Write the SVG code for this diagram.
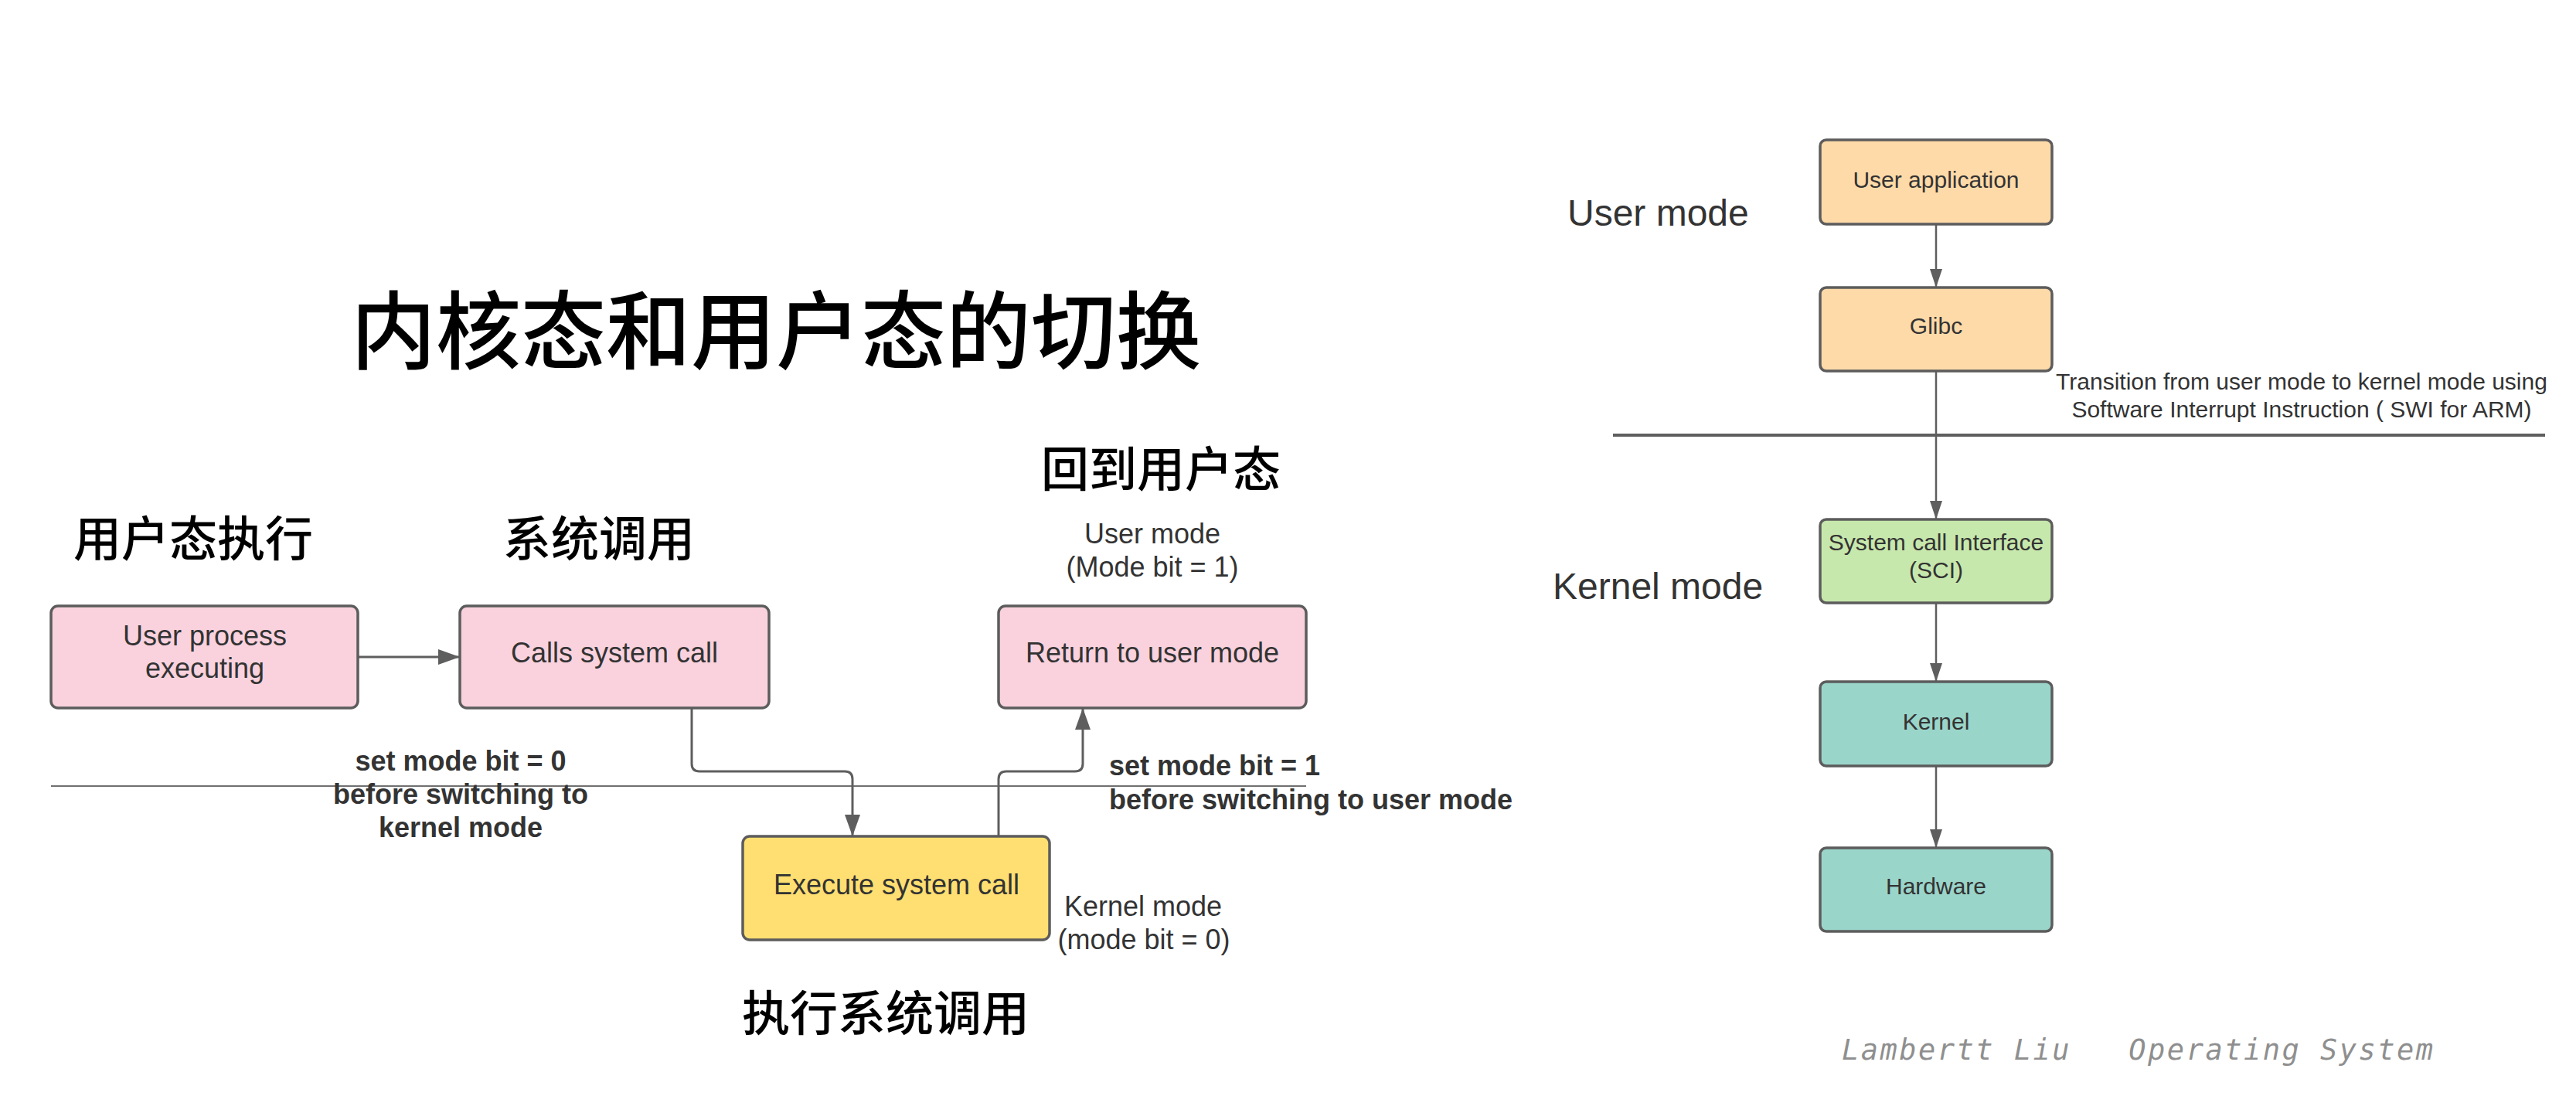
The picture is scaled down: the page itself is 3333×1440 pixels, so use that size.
<svg xmlns="http://www.w3.org/2000/svg" width="3333" height="1440" viewBox="0 0 3333 1440">
<style>
.box{stroke:#5c5c5c;stroke-width:3.5}
.pink{fill:#F9D2DE}
.yellow{fill:#FFDF71}
.orange{fill:#FFDAA9}
.green{fill:#C7E8AC}
.teal{fill:#9AD5CA}
.t{font-family:"Liberation Sans",Arial,sans-serif;fill:#333333;text-anchor:middle}
.t36{font-size:36px}
.t30{font-size:30px}
.t48{font-size:48px;text-anchor:start}
.b{font-weight:bold}
.cjk{font-family:"Noto Sans CJK SC",sans-serif;fill:#000;text-anchor:middle;font-weight:500}
.conn{fill:none;stroke:#5e5e5e;stroke-width:3}
.connr{fill:none;stroke:#5e5e5e;stroke-width:2.5}
</style>
<defs>
<marker id="arL" markerUnits="userSpaceOnUse" markerWidth="28" markerHeight="20" viewBox="0 0 28 20" refX="28" refY="10" orient="auto">
<path d="M0,0 L28,10 L0,20 Z" fill="#5e5e5e"/>
</marker>
<marker id="arR" markerUnits="userSpaceOnUse" markerWidth="24" markerHeight="16" viewBox="0 0 24 16" refX="24" refY="8" orient="auto">
<path d="M0,0 L24,8 L0,16 Z" fill="#5e5e5e"/>
</marker>
</defs>
<rect width="3333" height="1440" fill="#ffffff"/>

<g id="titles">
<text class="cjk" x="1004" y="469" font-size="110">内核态和用户态的切换</text>
<text class="cjk" x="250" y="720" font-size="62">用户态执行</text>
<text class="cjk" x="775" y="720" font-size="62">系统调用</text>
<text class="cjk" x="1502" y="630" font-size="62">回到用户态</text>
<text class="cjk" x="1146" y="1334" font-size="62">执行系统调用</text>
</g>

<g id="dividers">
<line x1="66" y1="1017" x2="1690" y2="1017" stroke="#707070" stroke-width="2"/>
<line x1="2087" y1="563" x2="3293" y2="563" stroke="#5e5e5e" stroke-width="4"/>
</g>

<g id="connectors">
<path class="conn" d="M463,850 H595" marker-end="url(#arL)"/>
<path class="conn" d="M895,916 V988 Q895,998 905,998 H1093 Q1103,998 1103,1008 V1082" marker-end="url(#arL)"/>
<path class="conn" d="M1292,1082 V1008 Q1292,998 1302,998 H1391 Q1401,998 1401,988 V916" marker-end="url(#arL)"/>
<path class="connr" d="M2505,290 V372" marker-end="url(#arR)"/>
<path class="connr" d="M2505,480 V672" marker-end="url(#arR)"/>
<path class="connr" d="M2505,780 V882" marker-end="url(#arR)"/>
<path class="connr" d="M2505,991 V1097" marker-end="url(#arR)"/>
</g>

<g id="user-process">
<rect class="box pink" x="66" y="784" width="397" height="132" rx="9"/>
<text class="t t36" x="265" y="835">User process</text>
<text class="t t36" x="265" y="877">executing</text>
</g>
<g id="calls-system-call">
<rect class="box pink" x="595" y="784" width="400" height="132" rx="9"/>
<text class="t t36" x="795" y="857">Calls system call</text>
</g>
<g id="return-user-mode">
<rect class="box pink" x="1292" y="784" width="398" height="132" rx="9"/>
<text class="t t36" x="1491" y="857">Return to user mode</text>
</g>
<g id="execute-system-call">
<rect class="box yellow" x="961" y="1082" width="397" height="134" rx="9"/>
<text class="t t36" x="1160" y="1157">Execute system call</text>
</g>

<g id="labels-left">
<text class="t t36 b" x="596" y="997">set mode bit = 0</text>
<text class="t t36 b" x="596" y="1040">before switching to</text>
<text class="t t36 b" x="596" y="1083">kernel mode</text>
<text class="t t36 b" x="1435" y="1003" style="text-anchor:start">set mode bit = 1</text>
<text class="t t36 b" x="1435" y="1047" style="text-anchor:start">before switching to user mode</text>
<text class="t t36" x="1491" y="703">User mode</text>
<text class="t t36" x="1491" y="746">(Mode bit = 1)</text>
<text class="t t36" x="1479" y="1185">Kernel mode</text>
<text class="t t36" x="1480" y="1228">(mode bit = 0)</text>
</g>

<g id="labels-right">
<text class="t t48" x="2028" y="292">User mode</text>
<text class="t t48" x="2009" y="775">Kernel mode</text>
<text class="t t30" x="2978" y="504">Transition from user mode to kernel mode using</text>
<text class="t t30" x="2978" y="540">Software Interrupt Instruction ( SWI for ARM)</text>
</g>

<g id="user-application">
<rect class="box orange" x="2355" y="181" width="300" height="109" rx="8"/>
<text class="t t30" x="2505" y="243">User application</text>
</g>
<g id="glibc">
<rect class="box orange" x="2355" y="372" width="300" height="108" rx="8"/>
<text class="t t30" x="2505" y="432">Glibc</text>
</g>
<g id="sci">
<rect class="box green" x="2355" y="672" width="300" height="108" rx="8"/>
<text class="t t30" x="2505" y="712">System call Interface</text>
<text class="t t30" x="2505" y="748">(SCI)</text>
</g>
<g id="kernel">
<rect class="box teal" x="2355" y="882" width="300" height="109" rx="8"/>
<text class="t t30" x="2505" y="944">Kernel</text>
</g>
<g id="hardware">
<rect class="box teal" x="2355" y="1097" width="300" height="108" rx="8"/>
<text class="t t30" x="2505" y="1157">Hardware</text>
</g>

<g id="watermark">
<text x="2383" y="1371" font-family="DejaVu Sans Mono,monospace" font-style="italic" font-size="37" fill="#8f8f8f" textLength="765" lengthAdjust="spacing" xml:space="preserve">Lambertt Liu   Operating System</text>
</g>
</svg>
